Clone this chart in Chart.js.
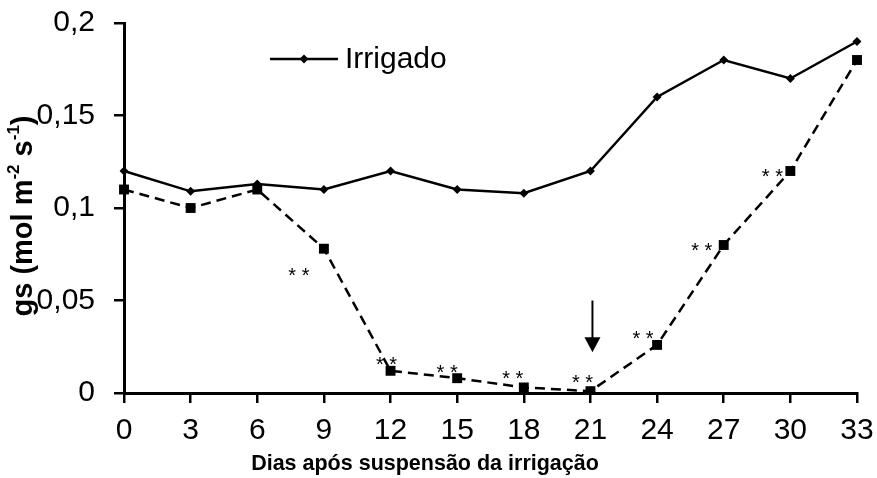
<!DOCTYPE html>
<html>
<head>
<meta charset="utf-8">
<script src="https://cdn.jsdelivr.net/npm/chart.js@4/dist/chart.umd.min.js"></script>
<style>
  body { margin: 0; background: #fff; }
  #wrap { width: 877px; height: 478px; }
</style>
</head>
<body>
<div id="wrap"><canvas id="gsChart"></canvas></div>
<script>
// Dias após suspensão da irrigação
const days = ['0', '3', '6', '9', '12', '15', '18', '21', '24', '27', '30', '33'];
// gs (mol m-2 s-1)
const irrigado = [0.12, 0.109, 0.113, 0.11, 0.12, 0.11, 0.108, 0.12, 0.16, 0.18, 0.17, 0.19];
const suspenso = [0.11, 0.10, 0.11, 0.078, 0.012, 0.008, 0.003, 0.001, 0.026, 0.08, 0.12, 0.18];
// days flagged with ** (significant difference)
const significant = ['9', '12', '15', '18', '21', '24', '27', '30'];
// day of re-irrigation (arrow)
const rewaterDay = '21';

const FONT = '"Liberation Sans", Arial, sans-serif';

// offsets of the ** labels relative to their point
const starOffsets = {
    '9': [-25, 24], '12': [-4, -9], '15': [-10, -9], '18': [-11, -12],
    '21': [-8, -12], '24': [-14, -9], '27': [-22, 2], '30': [-18, 2]
};

const extras = {
    id: 'extras',
    afterDraw(chart) {
        const ctx = chart.ctx;
        const x = chart.scales.x;
        const y = chart.scales.y;
        ctx.save();

        // ** marks
        ctx.fillStyle = '#000';
        ctx.font = '20px ' + FONT;
        ctx.textAlign = 'center';
        ctx.textBaseline = 'middle';
        significant.forEach(d => {
            const i = days.indexOf(d);
            const off = starOffsets[d] || [0, -12];
            ctx.fillText('* *', x.getPixelForValue(i) + off[0], y.getPixelForValue(suspenso[i]) + off[1] + 4);
        });

        // arrow
        const ax = x.getPixelForValue(days.indexOf(rewaterDay));
        const yTop = y.getPixelForValue(0.05);
        const yTip = y.getPixelForValue(0.022);
        ctx.strokeStyle = '#000';
        ctx.fillStyle = '#000';
        ctx.lineWidth = 2;
        ctx.beginPath();
        ctx.moveTo(ax + 2, yTop);
        ctx.lineTo(ax + 2, yTip - 10);
        ctx.stroke();
        ctx.beginPath();
        ctx.moveTo(ax - 6, yTip - 15);
        ctx.lineTo(ax + 10, yTip - 15);
        ctx.lineTo(ax + 2, yTip);
        ctx.closePath();
        ctx.fill();

        // legend
        ctx.lineWidth = 2.5;
        ctx.beginPath();
        ctx.moveTo(270, 59);
        ctx.lineTo(338, 59);
        ctx.stroke();
        ctx.beginPath();
        ctx.moveTo(304 - 4.5, 59);
        ctx.lineTo(304, 59 - 4.5);
        ctx.lineTo(304 + 4.5, 59);
        ctx.lineTo(304, 59 + 4.5);
        ctx.closePath();
        ctx.fill();
        ctx.font = '30px ' + FONT;
        ctx.textAlign = 'left';
        ctx.fillText('Irrigado', 345, 60);

        // x title
        ctx.font = 'bold 21.5px ' + FONT;
        ctx.textAlign = 'center';
        ctx.fillText('Dias após suspensão da irrigação', 425, 464);

        // y title
        ctx.translate(24, 216);
        ctx.rotate(-Math.PI / 2);
        const parts = [
            ['gs (mol m', 'bold 29px ', 0],
            ['-2', 'bold 17px ', -10],
            [' s', 'bold 29px ', 0],
            ['-1', 'bold 17px ', -10],
            [')', 'bold 29px ', 0]
        ];
        let total = 0;
        parts.forEach(p => { ctx.font = p[1] + FONT; total += ctx.measureText(p[0]).width; });
        let cx = -total / 2;
        ctx.textAlign = 'left';
        parts.forEach(p => {
            ctx.font = p[1] + FONT;
            ctx.fillText(p[0], cx, p[2]);
            cx += ctx.measureText(p[0]).width;
        });
        ctx.restore();
    }
};

new Chart(document.getElementById('gsChart'), {
    type: 'line',
    data: {
        labels: days,
        datasets: [{
            label: 'Irrigado',
            data: irrigado,
            borderColor: '#000',
            backgroundColor: '#000',
            borderWidth: 2.5,
            pointStyle: 'rectRot',
            pointRadius: 4.5,
            pointBorderWidth: 0,
            tension: 0
        }, {
            label: 'Suspensão',
            data: suspenso,
            borderColor: '#000',
            backgroundColor: '#000',
            borderWidth: 2.5,
            borderDash: [10, 6],
            pointStyle: 'rect',
            pointRadius: 7,
            pointBorderWidth: 0,
            tension: 0
        }]
    },
    options: {
        responsive: true,
        maintainAspectRatio: false,
        animation: false,
        layout: { padding: { top: 23, right: 20, left: 0, bottom: 0 } },
        plugins: {
            legend: { display: false },
            tooltip: { enabled: false }
        },
        scales: {
            x: {
                type: 'category',
                offset: false,
                grid: { drawOnChartArea: false, drawTicks: true, tickLength: 10, color: '#000', lineWidth: 2.5 },
                border: { color: '#000', width: 3 },
                ticks: { color: '#000', font: { family: FONT, size: 30 }, padding: 10, maxRotation: 0, autoSkip: false },
                afterFit(scale) {
                    scale.height = 85;
                    scale.paddingLeft = 0;
                    scale.paddingRight = 0;
                }
            },
            y: {
                min: 0,
                max: 0.2,
                grid: { drawOnChartArea: false, drawTicks: true, tickLength: 10, color: '#000', lineWidth: 2.5 },
                border: { color: '#000', width: 3 },
                ticks: {
                    stepSize: 0.05,
                    color: '#000',
                    font: { family: FONT, size: 30 },
                    padding: 19,
                    callback: v => Number(v.toFixed(2)).toString().replace('.', ',')
                },
                afterFit(scale) {
                    scale.width = 124;
                    scale.paddingTop = 0;
                    scale.paddingBottom = 0;
                }
            }
        }
    },
    plugins: [extras]
});
</script>
</body>
</html>
